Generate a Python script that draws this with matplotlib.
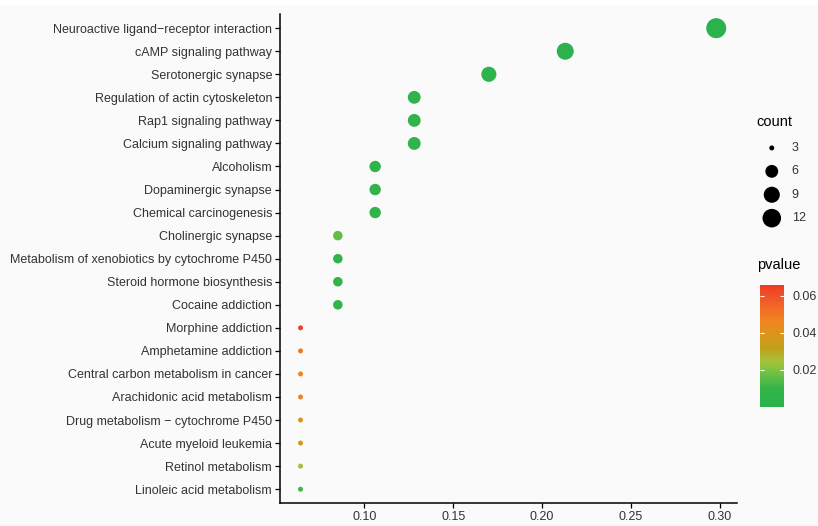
import numpy as np
import matplotlib
matplotlib.use("Agg")
import matplotlib.pyplot as plt
from matplotlib.colors import LinearSegmentedColormap, Normalize
from matplotlib.colorbar import ColorbarBase
from matplotlib.patches import Rectangle

plt.rcParams["font.family"] = ["Liberation Sans", "DejaVu Sans"]

# KEGG pathways, top to bottom
pathways = [
    "Neuroactive ligand\u2212receptor interaction",
    "cAMP signaling pathway",
    "Serotonergic synapse",
    "Regulation of actin cytoskeleton",
    "Rap1 signaling pathway",
    "Calcium signaling pathway",
    "Alcoholism",
    "Dopaminergic synapse",
    "Chemical carcinogenesis",
    "Cholinergic synapse",
    "Metabolism of xenobiotics by cytochrome P450",
    "Steroid hormone biosynthesis",
    "Cocaine addiction",
    "Morphine addiction",
    "Amphetamine addiction",
    "Central carbon metabolism in cancer",
    "Arachidonic acid metabolism",
    "Drug metabolism \u2212 cytochrome P450",
    "Acute myeloid leukemia",
    "Retinol metabolism",
    "Linoleic acid metabolism",
]
counts = [14, 10, 8, 6, 6, 6, 5, 5, 5, 4, 4, 4, 4, 3, 3, 3, 3, 3, 3, 3, 3]
gene_ratio = [0.298, 0.213, 0.170, 0.128, 0.128, 0.128, 0.106, 0.106, 0.106,
              0.085, 0.085, 0.085, 0.085, 0.064, 0.064, 0.064, 0.064, 0.064,
              0.064, 0.064, 0.064]
pvalues = [0.0005, 0.002, 0.003, 0.006, 0.006, 0.005, 0.007, 0.007, 0.006,
           0.016, 0.009, 0.009, 0.009, 0.064, 0.050, 0.047, 0.047, 0.038,
           0.036, 0.024, 0.012]

legend_counts = [3, 6, 9, 12]
cbar_ticks = [0.02, 0.04, 0.06]
p_min, p_max = 0.0, 0.066

cmap = LinearSegmentedColormap.from_list("pv", [
    (0.00, "#2BB24C"), (0.15, "#33B44A"), (0.30, "#7DC242"),
    (0.37, "#A3C23A"), (0.48, "#BFA01A"), (0.58, "#D9961A"),
    (0.70, "#F0861F"), (0.85, "#F1602A"), (1.00, "#EE3A24")])
norm = Normalize(p_min, p_max)

DPI = 100
c_lo, c_hi = min(counts), max(counts)


def marker_area(c):
    # ggplot-like area scale: diameter in px, converted to points^2
    d_px = 5 + 15 * np.sqrt((np.asarray(c, float) - c_lo) / (c_hi - c_lo))
    return (d_px * 72 / DPI) ** 2


bg = "#FAFAFA"
txt = "#333333"
fs = 9.0
fig = plt.figure(figsize=(8.18, 5.26), dpi=DPI, facecolor="white")
fig.patches.append(Rectangle((0, 0), 1, 0.99, transform=fig.transFigure,
                             facecolor=bg, edgecolor="none", zorder=-10))

ax = fig.add_axes([0.342, 0.0437, 0.559, 0.929])
ax.set_facecolor(bg)
y = np.arange(len(pathways))[::-1]
ax.scatter(gene_ratio, y, s=marker_area(counts), c=pvalues, cmap=cmap,
           norm=norm, linewidths=0)
ax.set_yticks(y)
ax.set_yticklabels(pathways, fontsize=fs, color=txt)
ax.set_ylim(-0.6, len(pathways) - 0.4)
span = max(gene_ratio) - min(gene_ratio)
ax.set_xlim(min(gene_ratio) - 0.05 * span, max(gene_ratio) + 0.05 * span)
ax.set_xticks([0.10, 0.15, 0.20, 0.25, 0.30])
ax.set_xticklabels(["0.10", "0.15", "0.20", "0.25", "0.30"], fontsize=fs, color=txt)
for s in ["top", "right"]:
    ax.spines[s].set_visible(False)
for s in ["left", "bottom"]:
    ax.spines[s].set_linewidth(1.1)
ax.tick_params(length=3.5, width=0.9, pad=2)

# size legend
fig.text(0.925, 0.768, "count", fontsize=10.5, color="black", va="center")
lax = fig.add_axes([0.926, 0.563, 0.07, 0.178])
lax.set_facecolor("none")
ly = np.arange(len(legend_counts))[::-1]
lax.scatter([0] * len(legend_counts), ly, s=marker_area(legend_counts),
            color="black", linewidths=0)
for yy, c in zip(ly, legend_counts):
    lax.text(1.4, yy, str(c), fontsize=fs, color=txt, va="center")
lax.set_xlim(-1, 3)
lax.set_ylim(-0.5, len(legend_counts) - 0.5)
lax.axis("off")

# color legend
fig.text(0.925, 0.497, "pvalue", fontsize=10.5, color="black", va="center")
cax = fig.add_axes([0.929, 0.226, 0.030, 0.233])
cb = ColorbarBase(cax, cmap=cmap, norm=norm, ticks=cbar_ticks)
cb.outline.set_visible(False)
cax.yaxis.set_ticks_position("both")
cax.tick_params(axis="y", direction="in", length=3, width=0.8, color="white",
                labelsize=fs, labelcolor=txt, labelright=True, labelleft=False, pad=6)
cax.set_yticklabels([f"{t:.2f}" for t in cbar_ticks])

fig.savefig("out.png", dpi=DPI, facecolor=fig.get_facecolor())
